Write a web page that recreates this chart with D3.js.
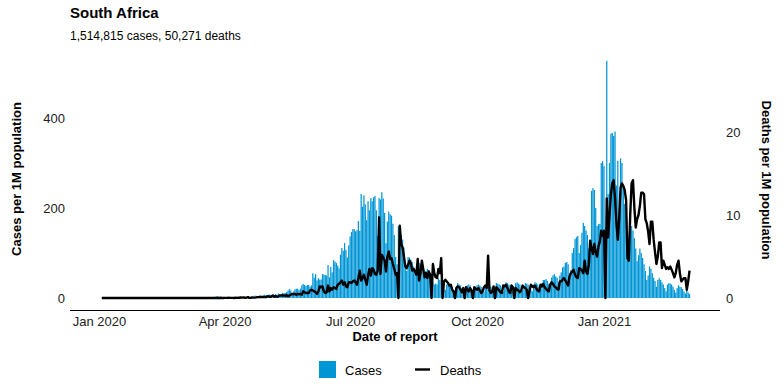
<!DOCTYPE html>
<html>
<head>
<meta charset="utf-8">
<script src="https://cdn.jsdelivr.net/npm/d3@7"></script>
<style>
  body { margin: 0; background: #fff; }
  text { font-family: "Liberation Sans", Arial, sans-serif; }
</style>
</head>
<body>
<script>
// daily values per 1M population, one row per month, first day 2020-01-03
const startDate = "2020-01-03";

const cases = [
  0,0,0,0,0,0,0,0,0,0,0,0,0,0,0,0,0,0,0,0,0,0,0,0,0,0,0,0,0,
  0,0,0,0,0,0,0,0,0,0,0,0,0,0,0,0,0,0,0,0,0,0,0,0,0,0,0,0,0,
  0,0,0,0,0,0,0,0,0.1,0,0.1,0.1,0.1,0.2,0.2,0.2,0.4,0.5,0.6,0.9,0.6,0.6,2.2,2.6,2.6,3.7,4.1,0.3,1.6,0.8,0.5,
  0.5,1.4,0.7,1.3,0.8,1.2,0.5,1.3,1.5,0.5,0.4,2.4,1.7,0.6,2.4,2.7,3.0,4.2,1.5,2.1,2.8,2.4,5.4,4.5,2.9,2.5,3.4,4.2,6.0,7.1,
  6.5,6.3,7.5,7.4,6.0,7.1,5.7,8.4,7.1,10.0,8.8,7.9,11.5,10.7,11.2,13.2,16.5,19.6,16.9,10.8,14.8,19.1,20.5,20.9,17.4,20.9,28.2,31.0,29.1,26.5,28.9,
  29,25,28,55,45,53,39,44,41,41,53,52,51,50,73,46,69,57,84,81,78,72,66,96,111,105,122,107,90,117,
  137,147,153,153,148,151,171,149,231,203,228,208,173,215,195,222,215,224,227,195,138,222,219,235,221,189,122,170,192,186,183,
  165,140,91,75,160,150,139,130,112,75,60,91,90,85,80,70,55,50,80,78,75,70,60,45,60,65,62,55,45,35,30,
  32,30,44,40,33,28,20,18,30,33,30,28,25,17,14,25,33,30,28,22,17,15,25,28,30,28,20,15,17,25,
  28,30,28,25,17,14,25,30,33,30,25,17,15,20,33,32,30,28,20,14,25,35,33,30,28,22,15,25,33,35,32,
  30,18,17,25,33,32,30,25,18,15,30,35,33,30,25,20,33,40,40,42,38,32,30,45,50,53,48,45,35,50,
  57,68,70,78,80,75,55,62,100,111,131,135,138,100,118,145,167,160,150,140,110,104,238,244,240,200,160,164,165,300,304,
  293,0,527,231,300,365,367,360,370,250,305,200,310,300,250,209,187,150,130,190,160,150,133,110,82,95,110,100,89,75,60,
  40,50,70,65,55,45,38,25,40,44,40,35,30,22,15,30,33,32,30,25,18,12,22,28,25,24,20,14,
  10,18,12,9
];

const deaths = [
  0,0,0,0,0,0,0,0,0,0,0,0,0,0,0,0,0,0,0,0,0,0,0,0,0,0,0,0,0,
  0,0,0,0,0,0,0,0,0,0,0,0,0,0,0,0,0,0,0,0,0,0,0,0,0,0,0,0,0,
  0,0,0,0,0,0,0,0,0,0,0,0,0,0,0,0,0,0,0,0,0,0,0,0,0,0,0.02,0,0.03,0,0,
  0.02,0.02,0.02,0.05,0.02,0.02,0.02,0,0.03,0.02,0.03,0.03,0.08,0.05,0.08,0.02,0.05,0.1,0.02,0.02,0.07,0.05,0.05,0.07,0.1,0.1,0.15,0.1,0.12,0.1,
  0.1,0.2,0.2,0.15,0.2,0.3,0.15,0.25,0.15,0.2,0.3,0.3,0.3,0.3,0.25,0.35,0.2,0.3,0.4,0.5,0.45,0.5,0.4,0.5,0.45,0.5,0.4,0.8,0.7,0.6,0.6,
  0.6,0.9,1.0,0.9,0.8,0.7,0.5,0.8,1.4,1.3,1.4,0.8,0.6,0.7,1.5,0.8,1.2,1.0,1.3,1.2,1.1,1.6,1.7,1.9,2.1,1.6,1.9,1.4,1.3,1.9,
  1.9,1.8,2.0,2.1,1.9,1.6,2.4,3.3,2.1,2.4,2.8,2.2,1.6,2.7,3.5,2.7,3.6,3.4,2.9,2.8,3.3,9.7,2.9,5.2,4.9,4.5,3.2,5.0,5.6,4.7,4.8,
  4.1,3.5,2.8,3.0,0,8.7,6.5,6.1,5.0,3.8,3.6,4.0,4.5,4.2,3.3,3.5,3.2,2.8,4.7,2.1,3.0,4.5,3.5,2.5,3.0,2.4,3.2,2.8,0,4.1,3.0,
  2.5,2.4,3.5,3.0,4.8,0,2.0,2.2,2.0,1.8,1.5,1.6,1.0,0.8,0,1.2,1.4,1.3,1.0,0.7,1.2,0,1.3,1.0,0.8,1.2,0.9,0,1.3,1.1,
  1.0,1.2,0.9,0.6,0.8,1.3,1.5,1.2,5.1,0.9,0.6,0.8,1.4,0,1.3,1.1,0.9,0.7,0.6,1.5,1.4,1.6,1.2,0.8,0.6,1.5,1.3,0,1.2,1.0,0.9,
  0.7,0.9,1.5,1.3,1.2,1.0,0,0.8,1.6,1.4,1.3,1.5,1.1,0.9,0.8,1.6,1.4,1.7,1.3,1.1,0.9,0.8,1.6,1.9,1.7,1.4,1.3,1.1,1.0,2.0,
  2.0,2.2,2.4,2.1,1.8,1.5,2.6,3.0,3.2,3.4,2.8,2.5,2.4,3.6,3.5,3.3,3.0,4.5,3.2,2.9,4.0,6.9,6.0,5.3,6.5,5.5,5.0,6.2,6.8,8.1,7.5,
  8.1,0,12.0,7.3,10.0,12.5,13.8,14.2,12.0,9.0,7.0,9.5,13.3,13.8,13.5,13.0,11.8,4.8,4.5,10.0,13.8,14.2,10.9,8.5,9.5,10.0,11.1,12.7,12.7,12.5,9.5,
  9.0,8.0,6.5,9.2,9.2,7.0,5.5,4.1,5.0,6.7,6.7,3.6,4.5,4.0,3.5,3.7,3.5,3.8,3.4,3.0,2.5,3.0,4.0,4.5,3.0,2.0,2.2,2.4,
  2.4,1.0,2.0,3.3
];

const xTickDates = ["2020-01-01", "2020-04-01", "2020-07-01", "2020-10-01", "2021-01-01"];
const xTickLabels = ["Jan 2020", "Apr 2020", "Jul 2020", "Oct 2020", "Jan 2021"];
const caseTicks = [0, 200, 400];
const deathTicks = [0, 10, 20];

const W = 784, H = 392;
const parse = d3.utcParse("%Y-%m-%d");
const day0 = parse(startDate);
const rows = cases.map((c, i) => ({ date: d3.utcDay.offset(day0, i), cases: c, deaths: deaths[i] }));

const svg = d3.select("body").append("svg")
  .attr("width", W)
  .attr("height", H)
  .style("background", "#fff");

const x = d3.scaleUtc()
  .domain([parse("2020-01-01"), parse("2021-01-01")])
  .range([99, 604]);
const yL = d3.scaleLinear().domain([0, 400]).range([298, 118]);
const yR = d3.scaleLinear().domain([0, 20]).range([298, 132]);

const dayW = x(parse("2020-01-02")) - x(parse("2020-01-01"));
const barW = dayW * 0.9;

// bars
svg.append("g")
  .selectAll("rect")
  .data(rows.filter(d => d.cases > 0))
  .enter()
  .append("rect")
  .attr("x", d => x(d.date) - barW / 2)
  .attr("y", d => yL(d.cases))
  .attr("width", barW)
  .attr("height", d => yL(0) - yL(d.cases))
  .attr("fill", "#0096d6");

// deaths line
const line = d3.line()
  .x(d => x(d.date))
  .y(d => yR(d.deaths));

svg.append("path")
  .datum(rows)
  .attr("d", line)
  .attr("fill", "none")
  .attr("stroke", "#000")
  .attr("stroke-width", 2.4)
  .attr("stroke-linejoin", "round");

// x axis
svg.append("line")
  .attr("x1", 70).attr("x2", 720)
  .attr("y1", 310.5).attr("y2", 310.5)
  .attr("stroke", "#000")
  .attr("stroke-width", 1.1);

const xAxis = svg.append("g")
  .attr("transform", "translate(0,310)")
  .call(d3.axisBottom(x)
    .tickValues(xTickDates.map(parse))
    .tickFormat((d, i) => xTickLabels[i])
    .tickSize(0)
    .tickPadding(7));
xAxis.select(".domain").remove();
xAxis.selectAll("text")
  .style("font-family", "Liberation Sans, Arial, sans-serif")
  .style("font-size", "13px")
  .attr("fill", "#222");

// left axis
const leftAxis = svg.append("g")
  .attr("transform", "translate(70,0)")
  .call(d3.axisLeft(yL).tickValues(caseTicks).tickSize(0).tickPadding(5));
leftAxis.select(".domain").remove();
leftAxis.selectAll("text")
  .style("font-family", "Liberation Sans, Arial, sans-serif")
  .style("font-size", "13px")
  .attr("fill", "#222");

// right axis
const rightAxis = svg.append("g")
  .attr("transform", "translate(720,0)")
  .call(d3.axisRight(yR).tickValues(deathTicks).tickSize(0).tickPadding(6));
rightAxis.select(".domain").remove();
rightAxis.selectAll("text")
  .style("font-family", "Liberation Sans, Arial, sans-serif")
  .style("font-size", "13px")
  .attr("fill", "#222");

// titles
svg.append("text")
  .attr("x", 70).attr("y", 17.5)
  .style("font-size", "15px")
  .style("font-weight", "bold")
  .text("South Africa");

svg.append("text")
  .attr("x", 70).attr("y", 39.5)
  .style("font-size", "12px")
  .text("1,514,815 cases, 50,271 deaths");

svg.append("text")
  .attr("transform", "translate(21,179) rotate(-90)")
  .attr("text-anchor", "middle")
  .style("font-size", "13px")
  .style("font-weight", "bold")
  .text("Cases per 1M population");

svg.append("text")
  .attr("transform", "translate(762,180) rotate(90)")
  .attr("text-anchor", "middle")
  .style("font-size", "13px")
  .style("font-weight", "bold")
  .text("Deaths per 1M population");

svg.append("text")
  .attr("x", 395).attr("y", 341)
  .attr("text-anchor", "middle")
  .style("font-size", "13px")
  .style("font-weight", "bold")
  .text("Date of report");

// legend
const legend = svg.append("g");
legend.append("rect")
  .attr("x", 319).attr("y", 361)
  .attr("width", 17).attr("height", 17)
  .attr("fill", "#0096d6");
legend.append("text")
  .attr("x", 345).attr("y", 374.5)
  .style("font-size", "13px")
  .text("Cases");
legend.append("line")
  .attr("x1", 415).attr("x2", 430)
  .attr("y1", 369.5).attr("y2", 369.5)
  .attr("stroke", "#000")
  .attr("stroke-width", 2.4);
legend.append("text")
  .attr("x", 440).attr("y", 374.5)
  .style("font-size", "13px")
  .text("Deaths");
</script>
</body>
</html>
